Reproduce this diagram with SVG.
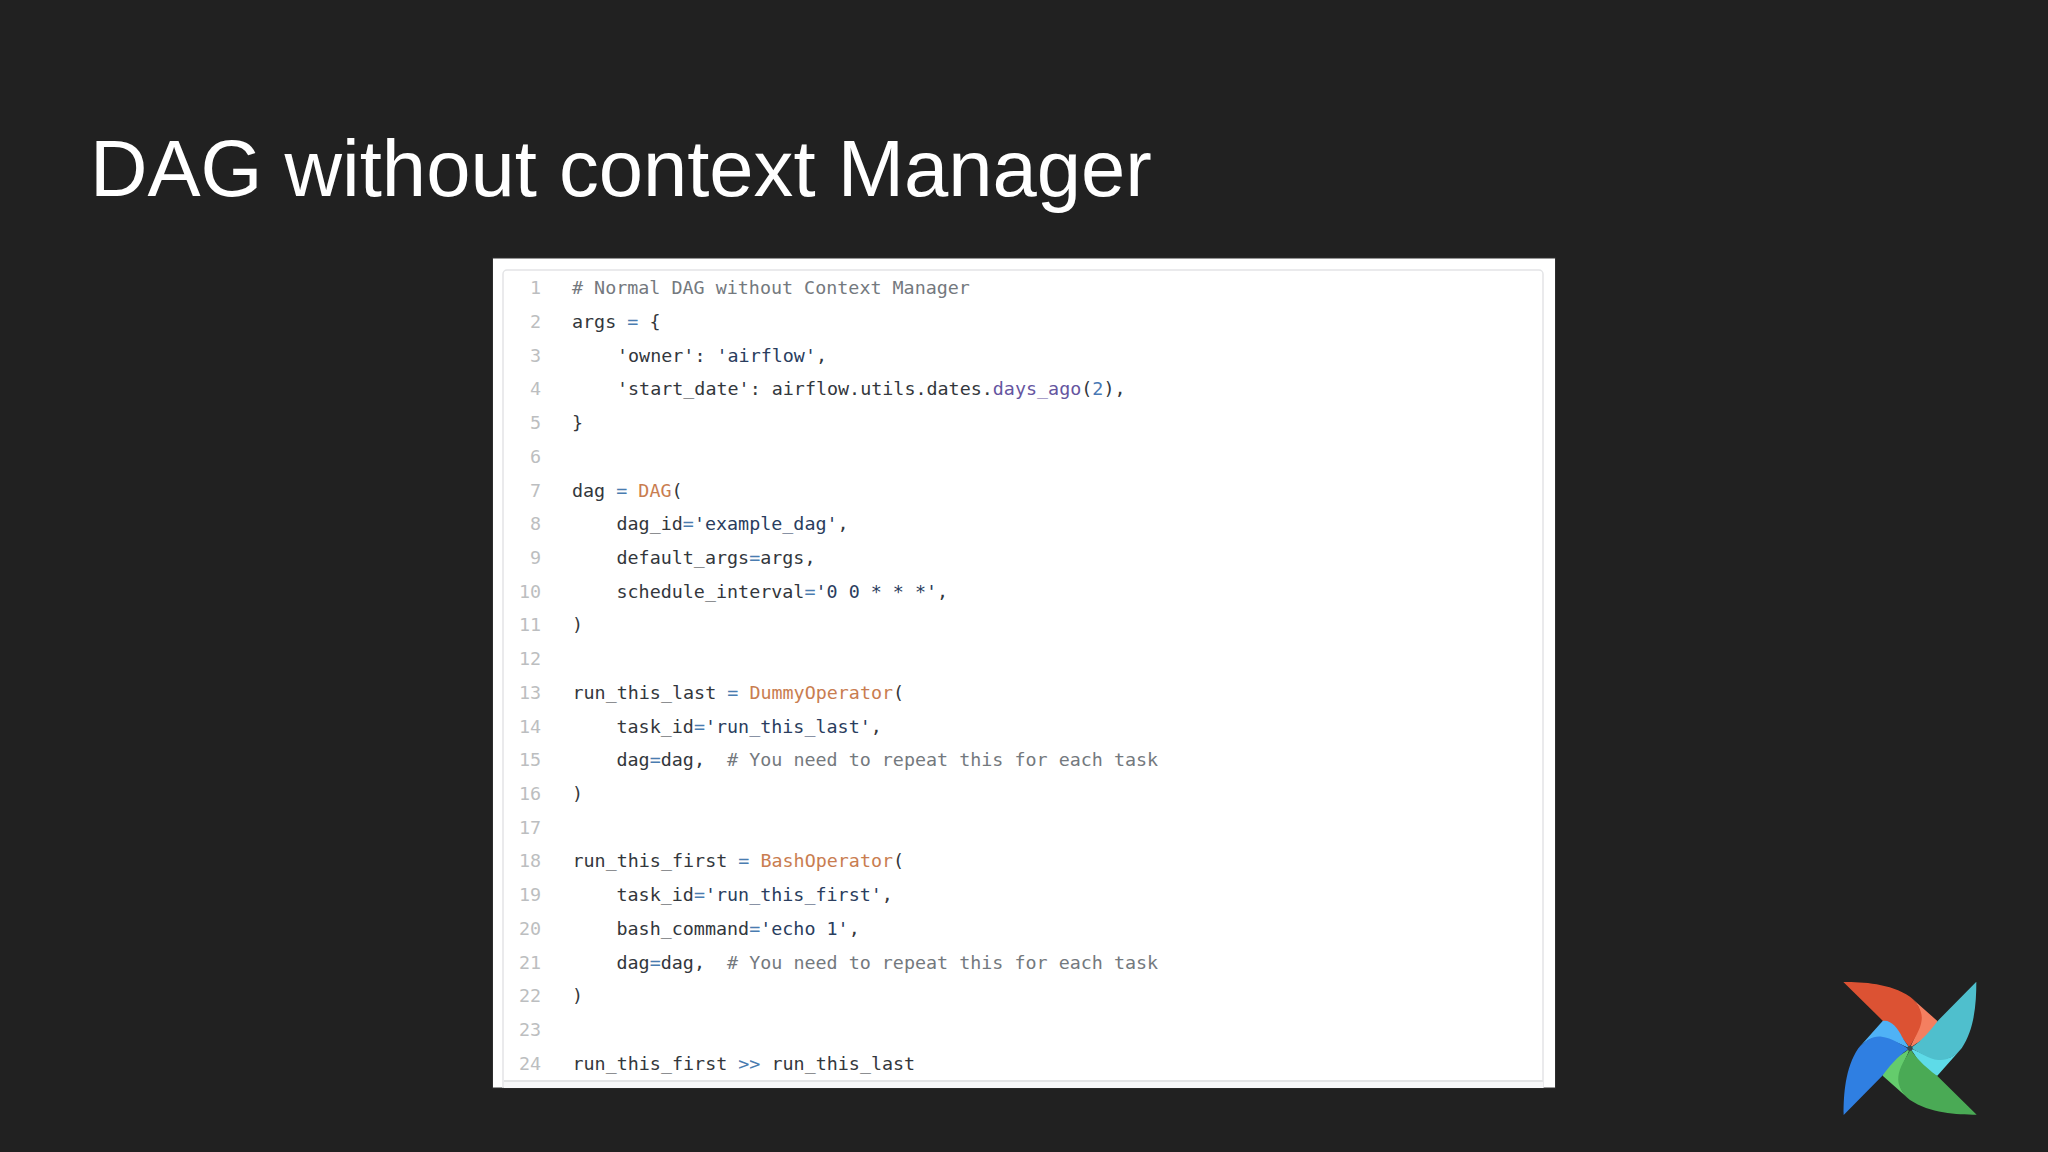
<svg xmlns="http://www.w3.org/2000/svg" xmlns:xlink="http://www.w3.org/1999/xlink" width="2048" height="1152" viewBox="0 0 2048 1152">
<style>
.t{font-family:"Liberation Sans",Arial,sans-serif;font-size:79.6px;fill:#fff}
.c{font-family:"DejaVu Sans Mono",monospace;font-size:18.37px;fill:#33373c;white-space:pre}
.n{font-family:"DejaVu Sans Mono",monospace;font-size:18.37px;fill:#bcbec0;text-anchor:end}
.g{fill:#74797e}.o{fill:#4a7cb0}.k{fill:#c97d50}.s{fill:#2a3d5e}.f{fill:#65559f}.v{fill:#4877b4}
</style>
<defs>
<path id="bm" d="M-200-199C-140-199-60-195 0-155C24-135 38-110 35-85C32-55 10-25 -2-2C-12-22-40-52-82-83L-200-199Z"/>
<path id="bl" d="M0-155L82-82C87-58 60-36 35-24C22-16 10-8 4-3C2-1 1 0 0 0C8-25 45-80 25-125C18-138 8-148 0-155Z"/>
</defs>
<rect width="2048" height="1152" fill="#212121"/>
<text class="t" x="90" y="196">DAG without context Manager</text>
<rect x="492.500" y="258" width="1063" height="830" fill="#fff" stroke="#2e2e2e" stroke-width="1"/>
<path d="M503 1088V274a4 4 0 0 1 4-4H1539a4 4 0 0 1 4 4V1088" fill="none" stroke="#e3e4e6" stroke-width="1.500"/>
<rect x="504" y="1081" width="1039" height="7" fill="#f7f7f8"/>
<rect x="504" y="1080" width="1039" height="2" fill="#e2e3e4"/>
<g id="lines">
<text class="n" x="541" y="294">1</text>
<text class="n" x="541" y="327.700">2</text>
<text class="n" x="541" y="361.500">3</text>
<text class="n" x="541" y="395.400">4</text>
<text class="n" x="541" y="429">5</text>
<text class="n" x="541" y="462.700">6</text>
<text class="n" x="541" y="496.700">7</text>
<text class="n" x="541" y="530.200">8</text>
<text class="n" x="541" y="563.900">9</text>
<text class="n" x="541" y="597.700">10</text>
<text class="n" x="541" y="631.400">11</text>
<text class="n" x="541" y="665.100">12</text>
<text class="n" x="541" y="698.900">13</text>
<text class="n" x="541" y="732.600">14</text>
<text class="n" x="541" y="766.400">15</text>
<text class="n" x="541" y="800">16</text>
<text class="n" x="541" y="833.600">17</text>
<text class="n" x="541" y="867.300">18</text>
<text class="n" x="541" y="901.300">19</text>
<text class="n" x="541" y="935">20</text>
<text class="n" x="541" y="968.800">21</text>
<text class="n" x="541" y="1002.300">22</text>
<text class="n" x="541" y="1036.200">23</text>
<text class="n" x="541" y="1070">24</text>
</g>
<g id="code">
<text class="c g" x="572" y="294"># Normal DAG without Context Manager</text>
<text class="c" x="572" y="327.700">args <tspan class="o">=</tspan> {</text>
<text class="c" x="617" y="361.500"><tspan>'owner'</tspan>: <tspan class="s">'airflow'</tspan>,</text>
<text class="c" x="617" y="395.400">'start_date': airflow.utils.dates.<tspan class="f">days_ago</tspan>(<tspan class="v">2</tspan>),</text>
<text class="c" x="572" y="429">}</text>
<text class="c" x="572" y="496.700">dag <tspan class="o">=</tspan> <tspan class="k">DAG</tspan>(</text>
<text class="c" x="616.500" y="530.200">dag_id<tspan class="o">=</tspan><tspan class="s">'example_dag'</tspan>,</text>
<text class="c" x="616.500" y="563.900">default_args<tspan class="o">=</tspan>args,</text>
<text class="c" x="616.500" y="597.700">schedule_interval<tspan class="o">=</tspan><tspan class="s">'0 0 * * *'</tspan>,</text>
<text class="c" x="572" y="631.400">)</text>
<text class="c" x="572.500" y="698.900">run_this_last <tspan class="o">=</tspan> <tspan class="k">DummyOperator</tspan>(</text>
<text class="c" x="616.500" y="732.600">task_id<tspan class="o">=</tspan><tspan class="s">'run_this_last'</tspan>,</text>
<text class="c" x="616.500" y="766.400">dag<tspan class="o">=</tspan>dag,  <tspan class="g"># You need to repeat this for each task</tspan></text>
<text class="c" x="572" y="800">)</text>
<text class="c" x="572.500" y="867.300">run_this_first <tspan class="o">=</tspan> <tspan class="k">BashOperator</tspan>(</text>
<text class="c" x="616.500" y="901.300">task_id<tspan class="o">=</tspan><tspan class="s">'run_this_first'</tspan>,</text>
<text class="c" x="616.500" y="935">bash_command<tspan class="o">=</tspan><tspan class="s">'echo 1'</tspan>,</text>
<text class="c" x="616.500" y="968.800">dag<tspan class="o">=</tspan>dag,  <tspan class="g"># You need to repeat this for each task</tspan></text>
<text class="c" x="572" y="1002.300">)</text>
<text class="c" x="572.500" y="1070">run_this_first <tspan class="o">&gt;&gt;</tspan> run_this_last</text>
</g>
<g id="logo" transform="translate(1910 1048.300) scale(.3333)">
<use xlink:href="#bl" fill="#f47f60"/><use xlink:href="#bm" fill="#dc5233"/>
<g transform="rotate(90)"><use xlink:href="#bl" fill="#5edbe8"/><use xlink:href="#bm" fill="#4fbfcd"/></g>
<g transform="rotate(180)"><use xlink:href="#bl" fill="#64cc6c"/><use xlink:href="#bm" fill="#4aaa55"/></g>
<g transform="rotate(270)"><use xlink:href="#bl" fill="#4fb2f6"/><use xlink:href="#bm" fill="#2f7fe2"/></g>
<circle r="8" fill="#3d4a4a"/>
</g>
</svg>
